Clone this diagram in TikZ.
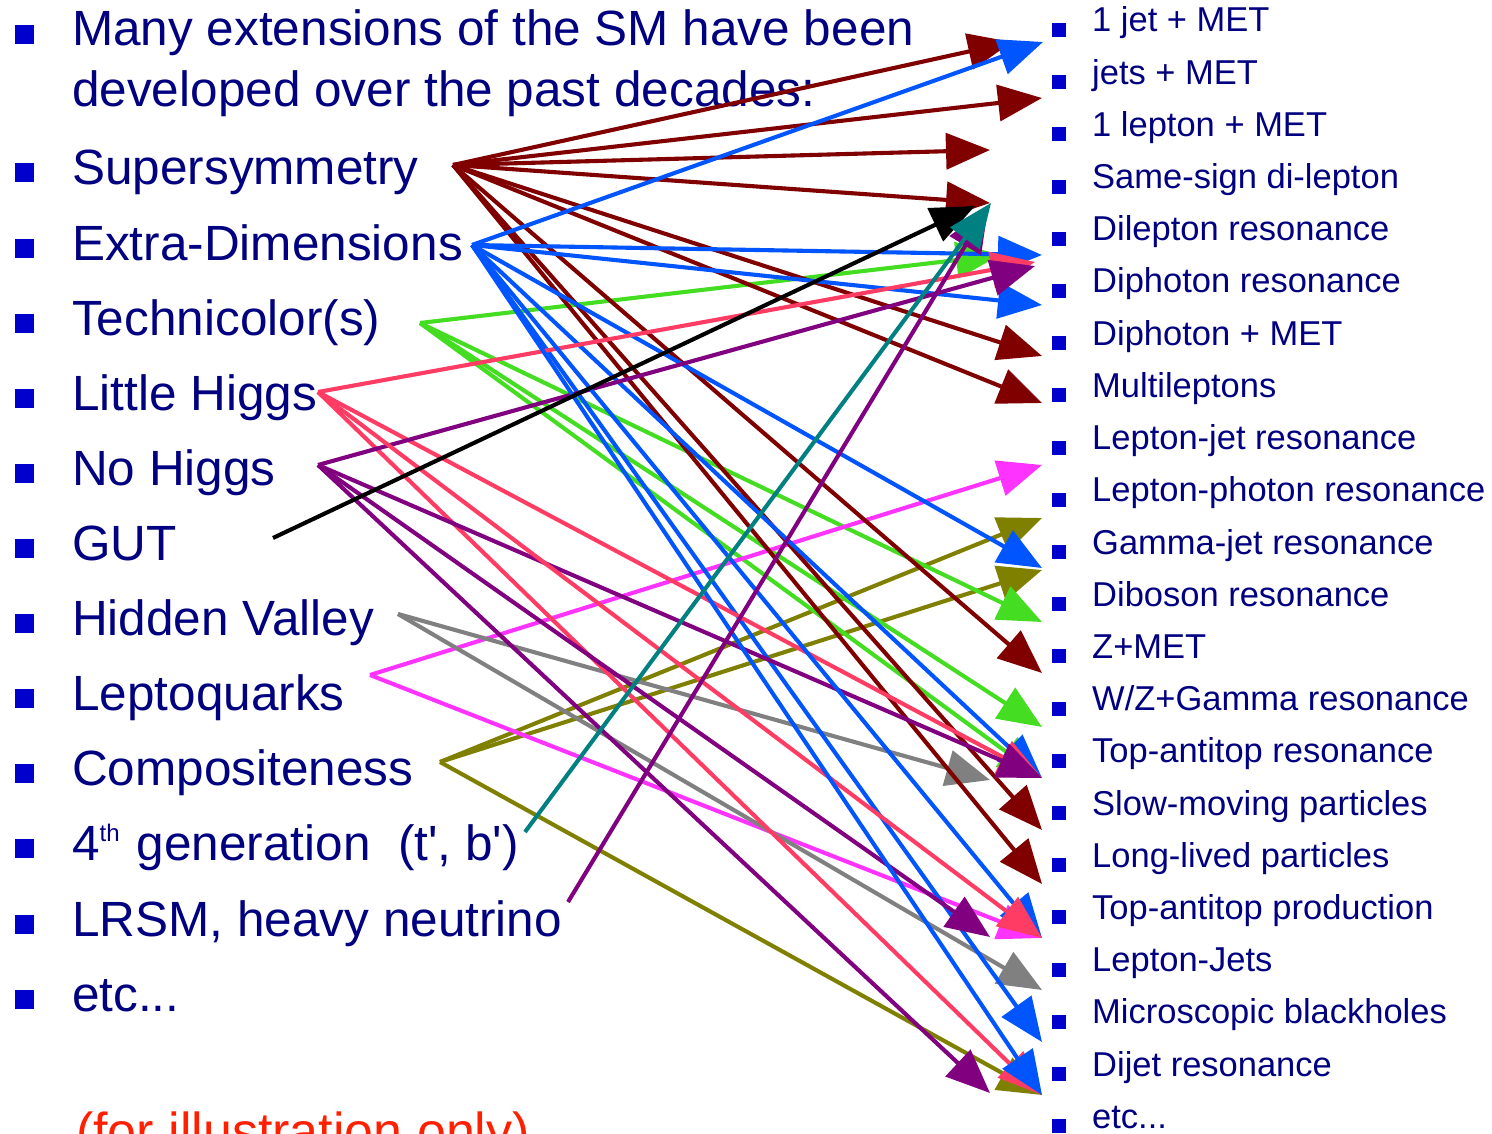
\documentclass[tikz,border=0pt]{standalone}
\usepackage{fontspec}
\setmainfont{Liberation Sans}
\usetikzlibrary{arrows.meta}
\definecolor{navytext}{RGB}{0,0,128}
\definecolor{bul}{RGB}{0,0,204}
\definecolor{cdr}{RGB}{128,0,0}
\definecolor{cbl}{RGB}{0,85,255}
\definecolor{cgr}{RGB}{68,221,34}
\definecolor{cpk}{RGB}{255,60,100}
\definecolor{cpu}{RGB}{128,0,128}
\definecolor{cgy}{RGB}{128,128,128}
\definecolor{cmg}{RGB}{255,51,255}
\definecolor{col}{RGB}{128,128,0}
\definecolor{ctl}{RGB}{0,128,128}
\definecolor{cred}{RGB}{255,32,0}
\begin{document}
\begin{tikzpicture}[x=1pt,y=-1pt,
  ltxt/.style={anchor=base west, inner sep=0pt, text=navytext, font=\fontsize{49.5}{60}\selectfont},
  rtxt/.style={anchor=base west, inner sep=0pt, text=navytext, font=\fontsize{34.5}{40}\selectfont},
  lbul/.style={fill=bul, inner sep=0pt, minimum size=19pt},
  rbul/.style={fill=bul, inner sep=0pt, minimum size=14pt},
  arr/.style={line width=4.1pt, -{Triangle[length=44pt,width=36pt]}}]
\useasboundingbox (0,0) rectangle (1492,1134);
\fill[white] (0,0) rectangle (1492,1134);
% header
\node[lbul] (lbh) at (24,35) {};
\node[ltxt] (h1) at (72,46) {Many extensions of the SM have been};
\node[ltxt] (h2) at (72,107) {developed over the past decades:};
% left list
\foreach \t [count=\i from 0] in {{Supersymmetry},{Extra-Dimensions},{Technicolor(s)},{Little Higgs},{No Higgs},{GUT},{Hidden Valley},{Leptoquarks},{Compositeness},{4\raisebox{19pt}{\fontsize{24}{24}\selectfont th}\hspace{17pt}generation\ \ (t\textquotesingle, b\textquotesingle)},{LRSM, heavy neutrino},{etc.{}.{}.}}{
  \pgfmathsetmacro\yy{185+75.1*\i}
  \node[lbul] (lb\i) at (24,\yy-12) {};
  \node[ltxt] (lt\i) at (72,\yy) {\t};
}
% right list
\foreach \t [count=\i from 0] in {{1 jet + MET},{jets + MET},{1 lepton + MET},{Same-sign di-lepton},{Dilepton resonance},{Diphoton resonance},{Diphoton + MET},{Multileptons},{Lepton-jet resonance},{Lepton-photon resonance},{Gamma-jet resonance},{Diboson resonance},{Z+MET},{W/Z+Gamma resonance},{Top-antitop resonance},{Slow-moving particles},{Long-lived particles},{Top-antitop production},{Lepton-Jets},{Microscopic blackholes},{Dijet resonance},{etc.{}.{}.}}{
  \pgfmathsetmacro\yy{32+52.2*\i}
  \node[rbul] (rb\i) at (1059,\yy-2) {};
  \node[rtxt] (rt\i) at (1092,\yy) {\t};
}
\node[anchor=base west, inner sep=0pt, text=cred, font=\fontsize{52}{60}\selectfont] (note) at (76,1149) {(for illustration only)};
% sources
\coordinate (susy) at (453,165);
\coordinate (xd) at (472,245);
\coordinate (tc) at (420,323);
\coordinate (lh) at (318,392);
\coordinate (nh) at (318,465);
\coordinate (gut) at (273,538);
\coordinate (hv) at (398,614);
\coordinate (lq) at (370,675);
\coordinate (comp) at (440,762);
\coordinate (gen) at (525,832);
\coordinate (lrsm) at (568,902);
% targets
\coordinate (dA) at (1012,42);
\coordinate (dB) at (1042,98);
\coordinate (dC) at (990,150);
\coordinate (dD) at (990,203);
\coordinate (dE) at (1042,356);
\coordinate (dF) at (1042,403);
\coordinate (dG) at (1042,673);
\coordinate (dH) at (1042,830);
\coordinate (dI) at (1042,884);
\coordinate (bA) at (1043,42);
\coordinate (bB) at (1042,255);
\coordinate (bC) at (1042,305);
\coordinate (bD) at (1042,568);
\coordinate (tTR) at (1042,778);
\coordinate (tTP) at (1042,938);
\coordinate (bG) at (1042,1042);
\coordinate (tDJ) at (1042,1095);
\coordinate (gA) at (1000,255);
\coordinate (gB) at (1042,622);
\coordinate (gC) at (1042,727);
\coordinate (pA) at (1035,262);
\coordinate (uA) at (1035,266);
\coordinate (uC) at (990,937);
\coordinate (uD) at (990,1093);
\coordinate (kA) at (975,206);
\coordinate (yA) at (990,780);
\coordinate (yB) at (1042,990);
\coordinate (mA) at (1042,465);
\coordinate (oA) at (1042,518);
\coordinate (oB) at (1042,570);
\coordinate (tlA) at (991,203);
\coordinate (lrA) at (988,208);
% arrows
\foreach \e in {tDJ,oA,oB} \draw[arr, col] (comp) -- (\e);
\foreach \e in {gA,gB,gC,tTR} \draw[arr, cgr] (tc) -- (\e);
\foreach \e in {mA,tTP} \draw[arr, cmg] (lq) -- (\e);
\foreach \e in {yA,yB} \draw[arr, cgy] (hv) -- (\e);
\foreach \e in {dA,dB,dC,dD,dE,dF,dG,dH,dI} \draw[arr, cdr] (susy) -- (\e);
\foreach \e in {bA,bB,bC,bD,tTR,bG} \draw[arr, cbl] (xd) -- (\e);
\foreach \e in {pA,tTR,tDJ} \draw[arr, cpk] (lh) -- (\e);
\foreach \e in {uA,tTR,uC,uD} \draw[arr, cpu] (nh) -- (\e);
\draw[arr, cbl] (xd) -- (tTP);
\draw[arr, cpk] (lh) -- (tTP);
\draw[arr, cbl] (xd) -- (tDJ);
\draw[arr, black] (gut) -- (kA);
\draw[arr, cpu] (lrsm) -- (lrA);
\draw[arr, ctl] (gen) -- (tlA);
\end{tikzpicture}
\end{document}
